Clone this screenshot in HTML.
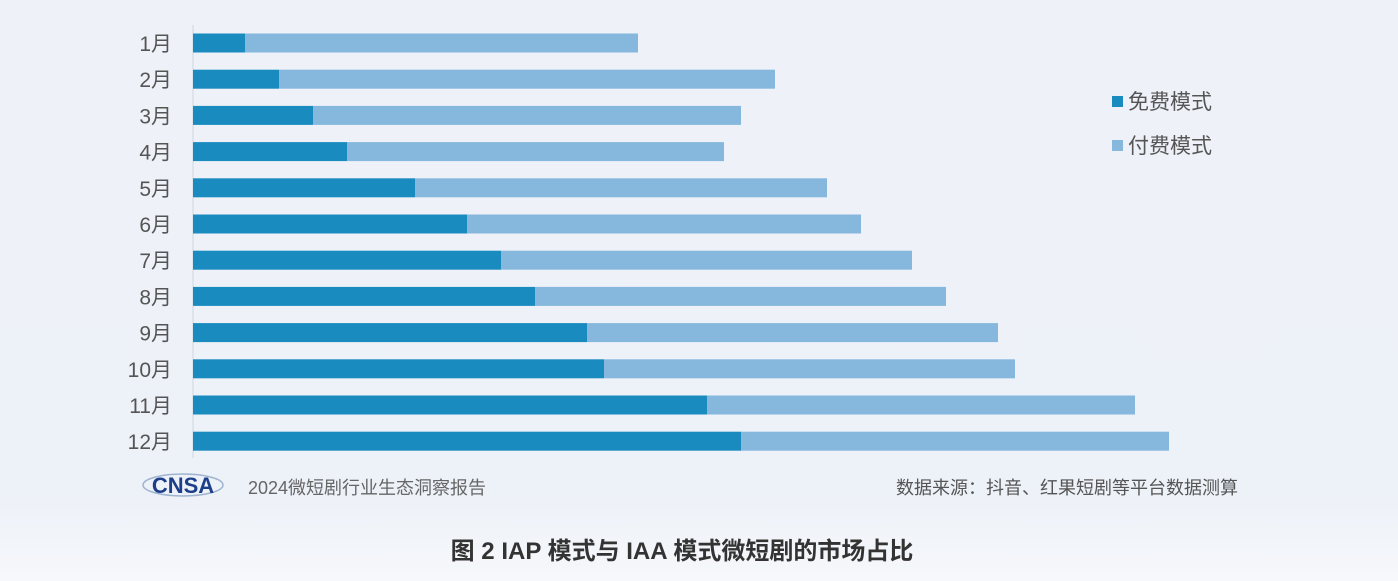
<!DOCTYPE html>
<html><head><meta charset="utf-8"><style>
body{margin:0;width:1398px;height:581px;overflow:hidden;background:#fff;font-family:"Liberation Sans","Noto Sans CJK SC",sans-serif;}
#bg{position:absolute;left:0;top:0;width:1398px;height:581px;background:linear-gradient(180deg,#eef2f8 0%,#edf1f8 85%,#f6f8fb 100%);}
svg{position:absolute;left:0;top:0;}
</style></head><body>
<div id="bg"></div>
<svg id="chart" width="1398" height="581">
<line x1="193" y1="25" x2="193" y2="458" stroke="#cfd6e0" stroke-width="1"/>
<g id="bars"></g>
<g id="labels"></g>
<g>
<g><rect x="1112" y="96" width="11" height="11" fill="#1a8bbf"/><text x="1128" y="109" font-size="21" fill="#555" font-family="Liberation Sans, Noto Sans CJK SC, sans-serif">免费模式</text></g>
<g><rect x="1112" y="140" width="11" height="11" fill="#86b8de"/><text x="1128" y="153" font-size="21" fill="#555" font-family="Liberation Sans, Noto Sans CJK SC, sans-serif">付费模式</text></g>
</g>
<g>
<ellipse cx="183" cy="485" rx="40" ry="11" fill="none" stroke="#9fb4cf" stroke-width="1.5"/>
<text x="183" y="493" text-anchor="middle" font-size="22" font-weight="bold" fill="#1d3f8a" font-family="Liberation Sans, sans-serif">CNSA</text>
</g>
<text x="248" y="494" font-size="18" fill="#666" font-family="Liberation Sans, Noto Sans CJK SC, sans-serif">2024微短剧行业生态洞察报告</text>
<text x="1238" y="494" text-anchor="end" font-size="18" fill="#555" font-family="Liberation Sans, Noto Sans CJK SC, sans-serif">数据来源：抖音、红果短剧等平台数据测算</text>
<text x="682" y="559" text-anchor="middle" font-size="24" font-weight="bold" fill="#333" font-family="Liberation Sans, Noto Sans CJK SC, sans-serif">图 2 IAP 模式与 IAA 模式微短剧的市场占比</text>
</svg>
<script>
const categories=["1月","2月","3月","4月","5月","6月","7月","8月","9月","10月","11月","12月"];
const freeValues=[52,86,120,154,222,274,308,342,394,411,514,548];
const paidValues=[393,496,428,377,412,394,411,411,411,411,428,428];
const NS="http://www.w3.org/2000/svg";
const x0=193, xScale=v=>v*1.0;
const yTop=43, step=36.2, barH=19;
const yPos=i=>yTop+i*step;
const bars=document.getElementById('bars'), labels=document.getElementById('labels');
categories.forEach((c,i)=>{
  const y=yPos(i)-barH/2;
  const f=document.createElementNS(NS,'rect');
  f.setAttribute('x',x0);f.setAttribute('y',y);f.setAttribute('width',xScale(freeValues[i]));f.setAttribute('height',barH);f.setAttribute('fill','#1a8bbf');
  
  
  bars.appendChild(f);
  const p=document.createElementNS(NS,'rect');
  p.setAttribute('x',x0+xScale(freeValues[i]));p.setAttribute('y',y);p.setAttribute('width',xScale(paidValues[i]));p.setAttribute('height',barH);p.setAttribute('fill','#86b8de');
  
  
  bars.appendChild(p);
  const t=document.createElementNS(NS,'text');
  t.setAttribute('x',172);t.setAttribute('y',yPos(i)+8);t.setAttribute('text-anchor','end');t.setAttribute('font-size','21');t.setAttribute('fill','#555');
  t.setAttribute('font-family','Liberation Sans, Noto Sans CJK SC, sans-serif');
  t.textContent=c;
  
  
  labels.appendChild(t);
});
</script>
</body></html>
